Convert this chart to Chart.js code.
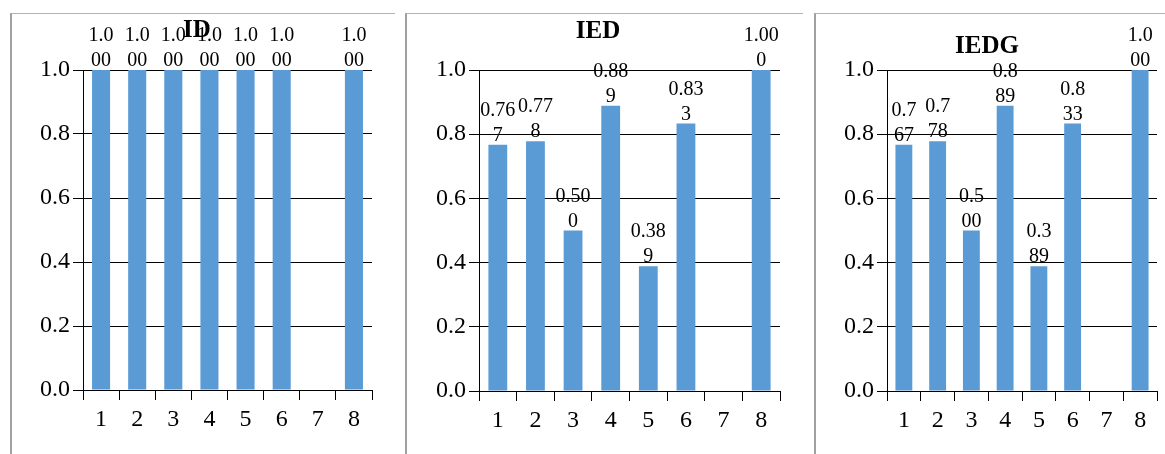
<!DOCTYPE html>
<html>
<head>
<meta charset="utf-8">
<script src="https://cdn.jsdelivr.net/npm/chart.js@4/dist/chart.umd.min.js"></script>
<style>
  html, body { margin: 0; padding: 0; background: #fff; }
  body { width: 1165px; height: 454px; position: relative; overflow: hidden; }
  .panel { position: absolute; top: 13px; height: 460px; box-sizing: border-box;
           border-top: 1px solid #b3b3b3; border-left: 2px solid #a0a0a0; }
  canvas { position: absolute; }
</style>
</head>
<body>
<div class="panel" style="left:10px; width:385px;"></div>
<div class="panel" style="left:405px; width:398px;"></div>
<div class="panel" style="left:814px; width:351px;"></div>
<canvas id="cID" width="383" height="440" style="left:12px; top:14px;"></canvas>
<canvas id="cIED" width="396" height="440" style="left:407px; top:14px;"></canvas>
<canvas id="cIEDG" width="349" height="440" style="left:816px; top:14px;"></canvas>
<script>
// Categories on the x axis
const categories = ['1', '2', '3', '4', '5', '6', '7', '8'];
// Series values (category 7 has no bar)
const idValues   = [1.000, 1.000, 1.000, 1.000, 1.000, 1.000, null, 1.000];
const iedValues  = [0.767, 0.778, 0.500, 0.889, 0.389, 0.833, null, 1.000];
const iedgValues = [0.767, 0.778, 0.500, 0.889, 0.389, 0.833, null, 1.000];
// Y axis tick values
const yTicks = [0.0, 0.2, 0.4, 0.6, 0.8, 1.0];

const SERIF = "'Liberation Serif', 'Times New Roman', Times, serif";
const BAR_BLUE = '#5B9BD5';

// Value labels above bars, wrapped onto two lines after `wrapAt` characters
const barLabels = {
  id: 'barLabels',
  afterDatasetsDraw(chart, args, opts) {
    const ctx = chart.ctx;
    const meta = chart.getDatasetMeta(0);
    const data = chart.data.datasets[0].data;
    ctx.save();
    ctx.font = '20px ' + SERIF;
    ctx.fillStyle = '#000';
    ctx.textAlign = 'center';
    ctx.textBaseline = 'alphabetic';
    meta.data.forEach((bar, i) => {
      const v = data[i];
      if (v === null || v === undefined) return;
      const s = v.toFixed(3);
      const lines = [s.slice(0, opts.wrapAt), s.slice(opts.wrapAt)].filter(t => t.length);
      const base = bar.y - 4;
      lines.forEach((t, k) => {
        ctx.fillText(t, bar.x, base - (lines.length - 1 - k) * 25);
      });
    });
    ctx.restore();
  }
};

// Bold panel heading
const panelTitle = {
  id: 'panelTitle',
  afterDraw(chart, args, opts) {
    const ctx = chart.ctx;
    ctx.save();
    ctx.font = 'bold 25px ' + SERIF;
    ctx.fillStyle = '#000';
    ctx.textAlign = 'center';
    ctx.textBaseline = 'alphabetic';
    ctx.fillText(opts.text, opts.x, opts.y);
    ctx.restore();
  }
};

function makeChart(id, values, title, wrapAt, axisWidth, pad) {
  new Chart(document.getElementById(id), {
    type: 'bar',
    data: {
      labels: categories,
      datasets: [{
        data: values,
        backgroundColor: BAR_BLUE,
        borderWidth: 0,
        barPercentage: 0.5,
        categoryPercentage: 1.0
      }]
    },
    plugins: [barLabels, panelTitle],
    options: {
      responsive: false,
      animation: false,
      devicePixelRatio: 1,
      layout: { padding: pad },
      plugins: {
        legend: { display: false },
        tooltip: { enabled: false },
        title: { display: false },
        barLabels: { wrapAt: wrapAt },
        panelTitle: title
      },
      scales: {
        x: {
          offset: true,
          grid: {
            offset: true,
            drawOnChartArea: true,
            color: c => (c.index === categories.length ? '#d4d4d4' : 'rgba(0,0,0,0)'),
            tickColor: '#000',
            tickLength: 10,
            lineWidth: 1
          },
          border: { display: true, color: '#000', width: 1 },
          ticks: {
            color: '#000',
            font: { family: SERIF, size: 24 },
            padding: 5,
            maxRotation: 0,
            autoSkip: false
          },
          afterFit: s => { s.height = 50; }
        },
        y: {
          min: 0,
          max: 1,
          afterBuildTicks: s => { s.ticks = yTicks.map(v => ({ value: v })); },
          grid: {
            color: '#000',
            tickColor: '#000',
            tickLength: 10,
            lineWidth: 1
          },
          border: { display: true, color: '#000', width: 1 },
          ticks: {
            color: '#000',
            font: { family: SERIF, size: 24 },
            padding: 3,
            callback: v => Number(v).toFixed(1)
          },
          afterFit: s => { s.width = axisWidth; }
        }
      }
    }
  });
}

makeChart('cID',   idValues,   { text: 'ID',   x: 185, y: 23 }, 3, 71, { top: 56, right: 23, bottom: 14, left: 0 });
makeChart('cIED',  iedValues,  { text: 'IED',  x: 191, y: 24 }, 4, 72, { top: 56, right: 23, bottom: 13, left: 0 });
makeChart('cIEDG', iedgValues, { text: 'IEDG', x: 171, y: 39 }, 3, 71, { top: 56, right: 8,  bottom: 13, left: 0 });
</script>
</body>
</html>
